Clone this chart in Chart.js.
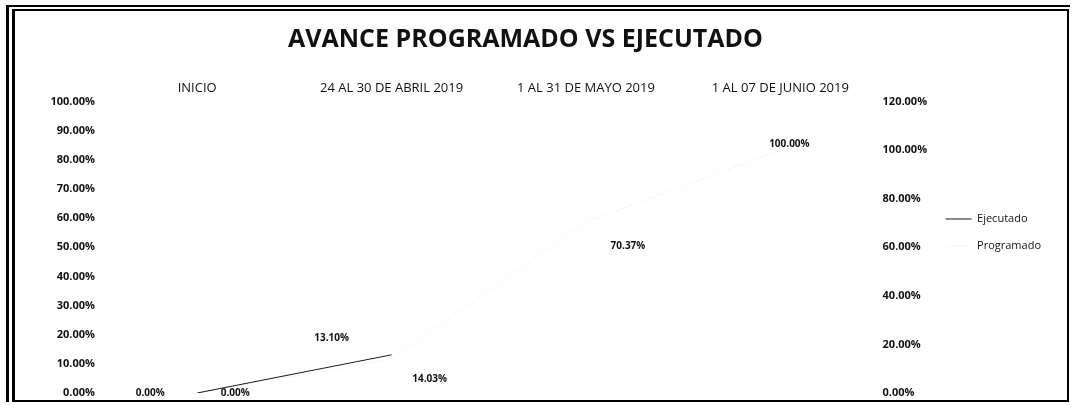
<!DOCTYPE html>
<html lang="es">
<head>
<meta charset="utf-8">
<title>Avance programado vs ejecutado</title>
<script src="https://cdn.jsdelivr.net/npm/chart.js@4.4.1/dist/chart.umd.min.js"></script>
<style>
  html, body { margin: 0; padding: 0; background: #fff; }
  body { width: 1073px; height: 405px; position: relative; overflow: hidden; }
  .frame-outer {
    position: absolute; left: 6px; top: 5px; width: 1064px; height: 397px;
    border-left: 3px solid #000; border-top: 2px solid #000; box-sizing: border-box;
  }
  .frame-inner {
    position: absolute; left: 12px; top: 9px; width: 1057px; height: 393px;
    border: 2px solid #000; border-left-width: 3px; box-sizing: border-box;
  }
  #avance-chart { position: absolute; left: 0; top: 0; }
</style>
</head>
<body>
<div class="frame-outer"></div>
<div class="frame-inner"></div>
<canvas id="avance-chart" width="1073" height="405"></canvas>

<script>
// AVANCE PROGRAMADO VS EJECUTADO

const CATEGORIES = [
  "INICIO",
  "24 AL 30 DE ABRIL 2019",
  "1 AL 31 DE MAYO 2019",
  "1 AL 07 DE JUNIO 2019",
];

// values in percent
const EJECUTADO = [0, 13.1, null, null];
const PROGRAMADO = [0, 14.03, 70.37, 100];

const LEFT_TICKS = [0, 10, 20, 30, 40, 50, 60, 70, 80, 90, 100];
const RIGHT_TICKS = [0, 20, 40, 60, 80, 100, 120];

// where each value label sits relative to its point (px)
const LABEL_SHIFT = {
  Ejecutado: [[38, 0], [-60, -17]],
  Programado: [[-47, 0], [38, 20], [42, 24], [9, -6]],
};

const FONT = "'Open Sans', 'Liberation Sans', sans-serif";
const INK = "#111";

function fmtPct(v) {
  return Number(v).toFixed(2) + "%";
}

const pointLabels = {
  id: "pointLabels",
  afterDatasetsDraw(chart) {
    const ctx = chart.ctx;
    ctx.save();
    ctx.font = "bold 10px " + FONT;
    ctx.fillStyle = INK;
    ctx.textAlign = "center";
    ctx.textBaseline = "middle";
    chart.data.datasets.forEach((ds, i) => {
      const meta = chart.getDatasetMeta(i);
      const shifts = LABEL_SHIFT[ds.label] || [];
      meta.data.forEach((pt, j) => {
        const v = ds.data[j];
        if (v === null || v === undefined) return;
        const [dx, dy] = shifts[j] || [0, -10];
        ctx.fillText(fmtPct(v), pt.x + dx, pt.y + dy);
      });
    });
    ctx.restore();
  },
};

function initChart() {
  const canvas = document.getElementById("avance-chart");
  if (!canvas) return;

  const cfg = {
    type: "line",
    data: {
      labels: CATEGORIES,
      datasets: [
        {
          label: "Ejecutado",
          data: EJECUTADO,
          yAxisID: "y",
          borderColor: "#1a1a1a",
          backgroundColor: "#1a1a1a",
          borderWidth: 1,
          pointRadius: 0,
          tension: 0,
        },
        {
          label: "Programado",
          data: PROGRAMADO,
          yAxisID: "y1",
          borderColor: "#f6f6f6",
          backgroundColor: "#f6f6f6",
          borderWidth: 1,
          pointRadius: 0,
          tension: 0,
        },
      ],
    },
    options: {
      responsive: false,
      animation: false,
      layout: { padding: { left: 0, right: 22, top: 0, bottom: 12 } },
      plugins: {
        title: {
          display: true,
          text: "AVANCE PROGRAMADO VS EJECUTADO",
          color: INK,
          font: { family: FONT, size: 25, weight: "bold" },
          padding: { top: 25, bottom: 19 },
        },
        legend: {
          position: "right",
          title: {
            display: true,
            text: "",
            font: { family: FONT, size: 10 },
            padding: { top: 60, bottom: 0 },
          },
          labels: {
            color: INK,
            font: { family: FONT, size: 11 },
            usePointStyle: true,
            pointStyle: "line",
            pointStyleWidth: 26,
            padding: 16,
          },
        },
        tooltip: { enabled: false },
      },
      scales: {
        x: {
          position: "top",
          offset: true,
          grid: { display: false, drawTicks: false },
          border: { display: false },
          ticks: {
            color: INK,
            font: { family: FONT, size: 13 },
            padding: 6,
            maxRotation: 0,
            autoSkip: false,
          },
        },
        y: {
          position: "left",
          min: 0,
          max: 100,
          grid: { display: false, drawTicks: false },
          border: { display: false },
          afterBuildTicks: (axis) => {
            axis.ticks = LEFT_TICKS.map((v) => ({ value: v }));
          },
          afterFit: (axis) => {
            axis.width = 100;
          },
          ticks: {
            color: INK,
            font: { family: FONT, size: 11, weight: "bold" },
            padding: 5,
            callback: (v) => fmtPct(v),
          },
        },
        y1: {
          position: "right",
          min: 0,
          max: 120,
          grid: { display: false, drawTicks: false },
          border: { display: false },
          afterBuildTicks: (axis) => {
            axis.ticks = RIGHT_TICKS.map((v) => ({ value: v }));
          },
          afterFit: (axis) => {
            axis.width = 52;
          },
          ticks: {
            color: INK,
            font: { family: FONT, size: 11, weight: "bold" },
            padding: 5,
            callback: (v) => fmtPct(v),
          },
        },
      },
    },
    plugins: [pointLabels],
  };

  new Chart(canvas, cfg);
}

document.addEventListener("DOMContentLoaded", initChart);
</script>
</body>
</html>
